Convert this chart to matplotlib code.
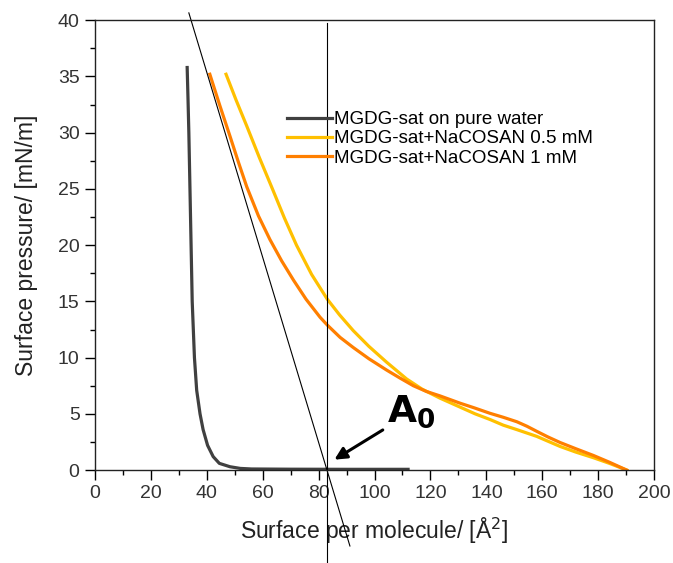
import numpy as np
import matplotlib.pyplot as plt

plt.rcParams['font.family'] = ['Liberation Sans', 'DejaVu Sans']

# isotherm readings (area in A^2, pressure in mN/m)
water_x = [33.0, 33.3, 33.6, 34.0, 34.4, 34.8, 35.2, 35.6, 36.4, 37.6, 38.7, 40.3, 42.3, 44.5, 48.3, 52.0, 56.0, 70.0, 90.0, 112.0]
water_y = [35.8, 33.0, 30.0, 25.0, 20.0, 15.0, 12.5, 10.0, 7.1, 5.0, 3.6, 2.2, 1.2, 0.6, 0.3, 0.15, 0.1, 0.08, 0.07, 0.07]

half_x = [46.9, 50.5, 54.3, 58.8, 63.5, 67.8, 72.1, 77.5, 83.1, 87.5, 92.4, 98.0, 104.3, 111.5, 117.0, 123.4,
          130.6, 136.0, 141.3, 146.0, 150.9, 158.0, 166.4, 172.0, 178.3, 184.0, 190.2]
half_y = [35.2, 32.9, 30.6, 27.8, 25.0, 22.4, 20.0, 17.4, 15.2, 13.8, 12.4, 11.0, 9.6, 8.1, 7.2, 6.4,
          5.6, 5.0, 4.5, 4.0, 3.6, 3.0, 2.1, 1.6, 1.1, 0.6, 0.0]

one_x = [41.1, 44.7, 48.3, 51.3, 54.3, 58.5, 62.6, 66.8, 71.0, 75.5, 80.5, 83.1, 87.7, 92.4, 98.0, 104.3, 109.0, 113.9,
         118.5, 123.4, 130.6, 135.5, 141.3, 146.0, 150.9, 154.5, 158.0, 162.0, 166.4, 172.0, 178.3, 184.0, 190.2]
one_y = [35.2, 32.4, 29.7, 27.4, 25.2, 22.6, 20.5, 18.6, 16.9, 15.2, 13.6, 12.9, 11.8, 10.9, 9.9, 8.9, 8.2, 7.5,
         7.0, 6.6, 5.95, 5.55, 5.05, 4.7, 4.3, 3.9, 3.45, 2.95, 2.45, 1.9, 1.3, 0.7, 0.0]

labels = ['MGDG-sat on pure water', 'MGDG-sat+NaCOSAN 0.5 mM', 'MGDG-sat+NaCOSAN 1 mM']
colors = ['#404040', '#FFC000', '#FF7F00']

a0 = 83.0
slope = -0.823

fig = plt.figure(figsize=(6.73, 5.63), dpi=100)
ax = fig.add_axes([0.141, 0.165, 0.831, 0.799])

ax.plot(water_x, water_y, color=colors[0], lw=2.3, label=labels[0], solid_joinstyle='round')
ax.plot(half_x, half_y, color=colors[1], lw=2.3, label=labels[1], solid_joinstyle='round')
ax.plot(one_x, one_y, color=colors[2], lw=2.3, label=labels[2], solid_joinstyle='round')

# tangent and A0 marker lines
tx = np.array([33.6, 91.2])
ax.plot(tx, slope * (tx - a0), color='black', lw=0.8, clip_on=False)
ax.plot([a0, a0], [39.8, -8.3], color='black', lw=0.8, clip_on=False)

ax.annotate('', xy=(84.8, 0.8), xytext=(103.8, 3.7),
            arrowprops=dict(arrowstyle='-|>', color='black', lw=2.2, mutation_scale=18))
ax.text(104.5, 4.3, r'$\mathbf{A_0}$', fontsize=27, fontweight='bold')

ax.set_xlim(0, 200)
ax.set_ylim(0, 40)
ax.set_xticks(np.arange(0, 201, 20))
ax.set_xticks(np.arange(10, 200, 20), minor=True)
ax.set_yticks(np.arange(0, 41, 5))
ax.set_yticks(np.arange(2.5, 40, 5), minor=True)
ax.tick_params(which='major', length=7, width=1, labelsize=14, labelcolor='#333333', direction='out', pad=4)
ax.tick_params(which='minor', length=3.5, width=1, direction='out')
for s in ax.spines.values():
    s.set_linewidth(1)
    s.set_color('#222222')

ax.set_xlabel('Surface per molecule/ [Å$^2$]', fontsize=16.5, color='#222222', labelpad=10)
ax.set_ylabel('Surface pressure/ [mN/m]', fontsize=16.5, color='#222222', labelpad=14)

ax.legend(loc='upper left', bbox_to_anchor=(0.33, 0.815), frameon=False, fontsize=13.5,
          handlelength=2.4, handletextpad=0.1, labelspacing=0.12, borderaxespad=0)

fig.savefig('out.png', dpi=100)
